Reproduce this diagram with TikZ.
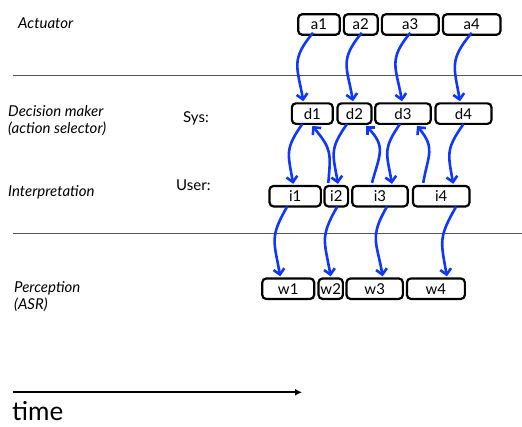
\documentclass[tikz,border=0pt]{standalone}
\usepackage{fontspec}
\setmainfont{Lato}
\usetikzlibrary{arrows.meta,calc}
\definecolor{arrblue}{RGB}{15,55,255}
\definecolor{rulegray}{RGB}{85,85,85}
\begin{document}
\begin{tikzpicture}[x=1pt,y=-1pt,
  box/.style={draw=black,line width=2.2pt,rounded corners=4pt,inner sep=0pt,minimum height=20.5pt,font=\fontsize{15}{17}\selectfont},
  lab/.style={anchor=west,font=\fontsize{15}{17}\selectfont\itshape,inner sep=0pt,align=left},
  sub/.style={anchor=west,font=\fontsize{15}{17}\selectfont,inner sep=0pt},
  arr/.style={draw=arrblue,line width=2.6pt,looseness=1.3,-{Straight Barb[length=5.5pt,width=11pt]}},
  rule/.style={draw=rulegray,line width=0.9pt}]
\useasboundingbox (0,0) rectangle (522,426);
% separators
\draw[rule] (13,75) -- (522,75);
\draw[rule] (13,233.3) -- (522,233.3);
% left labels
\node[lab] (act) at (18,23) {Actuator};
\node[lab] (dec) at (8,120.5) {Decision maker\\(action selector)};
\node[sub] (sys) at (183,118) {Sys:};
\node[lab] (int) at (8,192) {Interpretation};
\node[sub] (usr) at (176,185) {User:};
\node[lab] (per) at (14,296.5) {Perception\\(ASR)};
% boxes
\node[box,minimum width=41.6pt] (a1) at (319,24.5) {a1};
\node[box,minimum width=33.9pt] (a2) at (360.8,24.5) {a2};
\node[box,minimum width=56.9pt] (a3) at (410.3,24.5) {a3};
\node[box,minimum width=57.6pt] (a4) at (471.7,24.5) {a4};
\node[box,minimum width=40.9pt] (d1) at (312.3,113.6) {d1};
\node[box,minimum width=34pt] (d2) at (354.5,113.6) {d2};
\node[box,minimum width=55.6pt] (d3) at (403,113.6) {d3};
\node[box,minimum width=56pt] (d4) at (463.5,113.6) {d4};
\node[box,minimum width=51.3pt] (i1) at (295.2,196.2) {i1};
\node[box,minimum width=23.6pt] (i2) at (336.3,196.2) {i2};
\node[box,minimum width=55.6pt] (i3) at (380,196.2) {i3};
\node[box,minimum width=56.6pt] (i4) at (441.2,196.2) {i4};
\node[box,minimum width=51.9pt] (w1) at (288.2,288.7) {w1};
\node[box,minimum width=24.3pt] (w2) at (330.7,288.7) {w2};
\node[box,minimum width=56.3pt] (w3) at (374.7,288.7) {w3};
\node[box,minimum width=57.9pt] (w4) at (435.9,288.7) {w4};
% actuator -> decision
\draw[arr] ([xshift=-6pt,yshift=3pt]a1.south) to[out=-130,in=100] ([xshift=-9pt,yshift=1pt]d1.north);
\draw[arr] ([xshift=1pt,yshift=3pt]a2.south) to[out=-130,in=100] ([xshift=-1.5pt,yshift=1pt]d2.north);
\draw[arr] ([xshift=0pt,yshift=3pt]a3.south) to[out=-130,in=100] ([xshift=-1pt,yshift=1pt]d3.north);
\draw[arr] ([xshift=0pt,yshift=3pt]a4.south) to[out=-130,in=100] ([xshift=-3.5pt,yshift=1pt]d4.north);
% decision -> interpretation
\draw[arr] ([xshift=-10pt,yshift=1pt]d1.south) to[out=-125,in=100] ([xshift=-2pt,yshift=1pt]i1.north);
\draw[arr] ([xshift=-7.5pt,yshift=1pt]d2.south) to[out=-125,in=100] ([xshift=1.7pt,yshift=1pt]i2.north);
\draw[arr] ([xshift=-3pt,yshift=1pt]d3.south) to[out=-125,in=100] ([xshift=12pt,yshift=1pt]i3.north);
\draw[arr] ([xshift=0pt,yshift=1pt]d4.south) to[out=-125,in=100] ([xshift=12pt,yshift=1pt]i4.north);
% interpretation -> decision
\draw[arr] ([xshift=-8pt,yshift=2pt]i2.north) to[out=85,in=-50] ([xshift=0pt,yshift=-1pt]d1.south);
\draw[arr] ([xshift=-8pt,yshift=2pt]i3.north) to[out=75,in=-45] ([xshift=11.5pt,yshift=-1pt]d2.south);
\draw[arr] ([xshift=-18pt,yshift=2pt]i4.north) to[out=80,in=-50] ([xshift=14pt,yshift=-1pt]d3.south);
% interpretation -> perception
\draw[arr] ([xshift=-8pt,yshift=1pt]i1.south) to[out=-120,in=100] ([xshift=-8pt,yshift=1pt]w1.north);
\draw[arr] ([xshift=1pt,yshift=1pt]i2.south) to[out=-120,in=100] ([xshift=0pt,yshift=1pt]w2.north);
\draw[arr] ([xshift=7pt,yshift=1pt]i3.south) to[out=-120,in=100] ([xshift=8pt,yshift=1pt]w3.north);
\draw[arr] ([xshift=15pt,yshift=1pt]i4.south) to[out=-120,in=100] ([xshift=11pt,yshift=1pt]w4.north);
% time
\coordinate (t0) at (13,392.3);
\coordinate (t1) at (302,392.3);
\draw[line width=1.8pt,-{Latex[length=7pt,width=7pt]}] (t0) -- (t1);
\node[anchor=west,inner sep=0pt,font=\fontsize{26}{29}\selectfont] (time) at (12,411) {time};
\end{tikzpicture}
\end{document}
